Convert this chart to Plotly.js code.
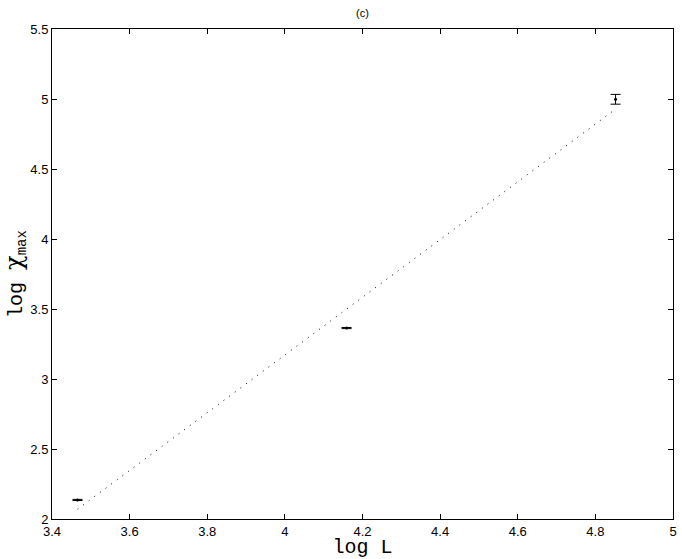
<!DOCTYPE html>
<html>
<head>
<meta charset="utf-8">
<script src="https://cdn.plot.ly/plotly-3.0.1.min.js"></script>
<style>html,body{margin:0;padding:0;background:#fff;}#chart{width:682px;height:559px;}</style>
</head>
<body>
<div id="chart"></div>
<script>
// data
const logL = [3.4657, 4.1589, 4.8520];
const logChiMax = [2.136, 3.364, 4.998];
const errChi = [0.004, 0.004, 0.035];
const fitX = [3.4657, 4.8520];
const fitY = [2.07, 4.928];
const xTicks = [3.4, 3.6, 3.8, 4, 4.2, 4.4, 4.6, 4.8, 5];
const yTicks = [2, 2.5, 3, 3.5, 4, 4.5, 5, 5.5];

const traces = [
  {
    x: fitX, y: fitY, type: 'scatter', mode: 'lines',
    line: {color: '#000', width: 1, dash: '1px,6px'},
    hoverinfo: 'skip', showlegend: false
  },
  {
    x: logL, y: logChiMax, type: 'scatter', mode: 'markers',
    marker: {color: '#000', size: 3},
    error_y: {type: 'data', array: errChi, visible: true, color: '#000', thickness: 1, width: 5},
    showlegend: false
  }
];

const axisCommon = {
  showline: true, linecolor: '#000', linewidth: 1, mirror: 'ticks',
  ticks: 'inside', ticklen: 5, tickcolor: '#000', tickwidth: 1,
  showgrid: false, zeroline: false,
  tickfont: {family: 'Liberation Sans, Arial, sans-serif', size: 13, color: '#000'}
};

const layout = {
  width: 682, height: 559,
  margin: {l: 52, r: 9, t: 29, b: 40},
  paper_bgcolor: '#fff', plot_bgcolor: '#fff',
  title: {text: '(c)', font: {family: 'Liberation Sans, Arial, sans-serif', size: 11, color: '#000'}, x: 0.5, xref: 'paper', y: 1, yref: 'container', yanchor: 'top', pad: {t: 9}},
  xaxis: Object.assign({}, axisCommon, {
    range: [3.4, 5], tickvals: xTicks, ticktext: xTicks.map(String),
    title: {text: 'log L', font: {family: 'Liberation Mono, Courier New, monospace', size: 20, color: '#000'}, standoff: 2}
  }),
  yaxis: Object.assign({}, axisCommon, {
    range: [2, 5.5], tickvals: yTicks, ticktext: yTicks.map(String),
    title: {text: 'log <span style="font-family:DejaVu Serif;font-size:24px">χ</span><sub>max</sub>', font: {family: 'Liberation Mono, Courier New, monospace', size: 20, color: '#000'}, standoff: 4}
  })
};

Plotly.newPlot('chart', traces, layout, {displayModeBar: false, staticPlot: true});
</script>
</body>
</html>
